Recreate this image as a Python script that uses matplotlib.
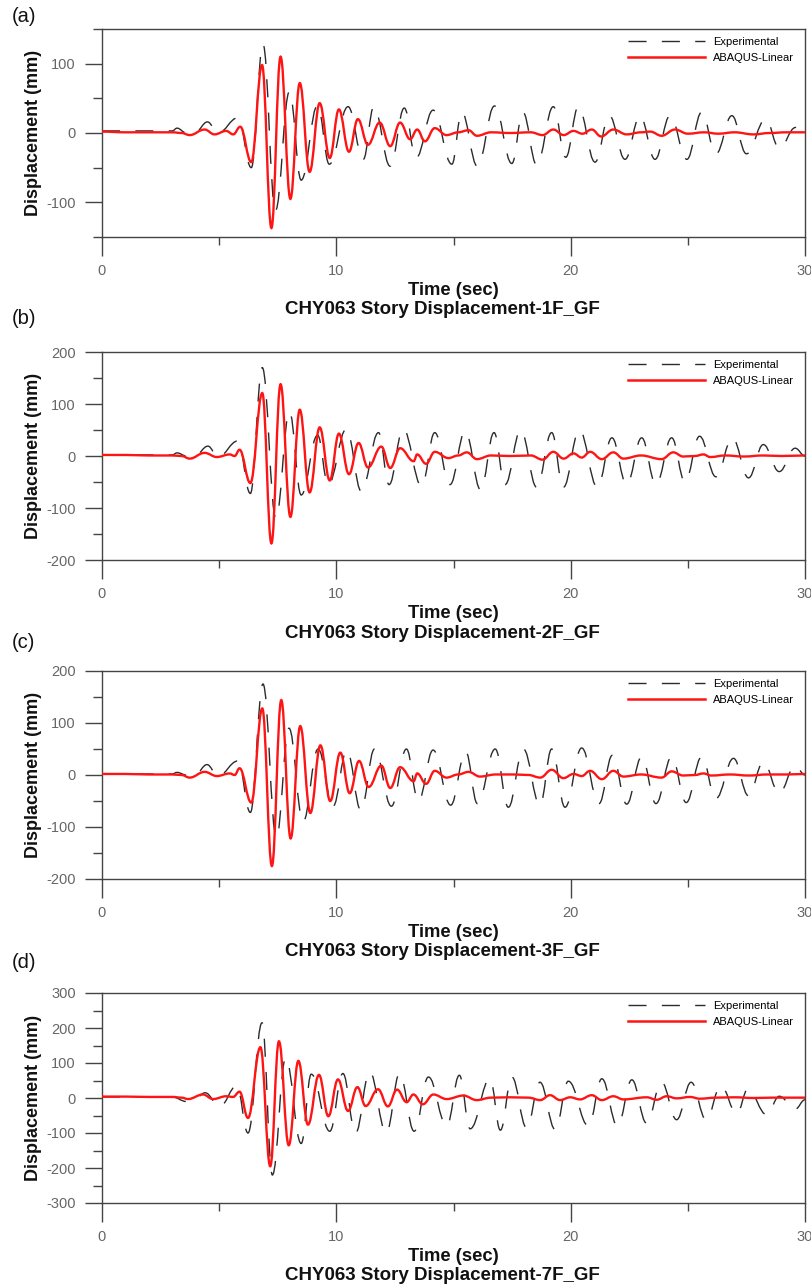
import matplotlib
matplotlib.use("Agg")
import matplotlib.pyplot as plt
from matplotlib.path import Path
from matplotlib.patches import PathPatch
from matplotlib.lines import Line2D
from matplotlib.ticker import MultipleLocator

plt.rcParams['font.family'] = ['Liberation Sans', 'DejaVu Sans']
plt.rcParams['axes.unicode_minus'] = False

# ---------------- data (turning points of each trace) -------------
# Panel (a) 1F
time_a_sim = [0, 1.0, 2.0, 3.0, 3.4, 3.74, 4.38, 4.8, 5.3, 5.6, 5.9, 6.37, 6.83, 7.23, 7.62,
              8.04, 8.44, 8.86, 9.29, 9.72, 10.11, 10.54, 10.92, 11.35, 11.85, 12.3, 12.72,
              13.15, 13.45, 13.78, 14.2, 14.7, 15.2, 15.64, 16.0, 16.6, 17.4, 18.3, 18.8, 19.26,
              19.7, 20.12, 20.5, 20.9, 21.3, 21.82, 22.39, 23.0, 23.4, 23.88, 24.45, 25.0, 25.7,
              26.3, 27.0, 27.8, 28.5, 29.2, 30.0]
disp_a_sim = [2, 1, 1, 1, 0, -3, 5, -2, 3, -2, 9, -42, 98, -137, 110,
              -95, 72, -56, 43, -36, 34, -27, 20, -17, 15, -19, 15,
              -9, 5, -12, 7, -3, 1, 4, -4, 1, 0, 1, -3, 5,
              -3, 3, -1, 5, -5, 5, -2, 1, 2, -4, 5, -1, 1,
              -1, 1, -2, 0, 1, 1]
time_a_exp = [0, 1.5, 3.0, 3.2, 3.6, 4.0, 4.5, 4.95, 5.8, 6.37, 6.87, 7.4, 8.0, 8.5, 9.2, 9.7,
              10.5, 11.15, 11.6, 12.3, 12.9, 13.4, 14.13, 14.93, 15.35, 16.02, 16.75, 17.49,
              17.96, 18.55, 19.26, 19.79, 20.33, 21.04, 21.65, 22.32, 22.96, 23.6, 24.24, 24.96,
              25.59, 26.2, 26.88, 27.5, 28.32, 28.9, 29.6, 30.0]
disp_a_exp = [3, 3, 3, 7, 0, 2, 16, 0, 22, -50, 128, -112, 60, -68, 40, -45,
              38, -38, 38, -48, 36, -36, 33, -45, 30, -48, 39, -44,
              30, -46, 38, -35, 38, -42, 25, -38, 25, -38, 25, -38,
              30, -30, 25, -30, 20, -22, 8, 5]

# Panel (b) 2F
time_b_sim = [0, 1.0, 2.0, 3.0, 3.4, 3.74, 4.38, 4.9, 5.45, 5.66, 5.87, 6.33, 6.84, 7.23, 7.62,
              8.04, 8.44, 8.86, 9.29, 9.72, 10.11, 10.54, 10.95, 11.35, 11.92, 12.3, 12.72,
              13.3, 13.45, 13.83, 14.2, 14.78, 15.2, 15.57, 16.0, 16.6, 17.4, 18.3, 18.8, 19.26,
              19.7, 20.12, 20.47, 20.83, 21.33, 21.82, 22.25, 23.0, 23.88, 24.38, 24.8, 25.3,
              25.67, 25.95, 26.6, 27.4, 28.2, 29.0, 30.0]
disp_b_sim = [2, 2, 1, 1, 0, -5, 6, -2, 3, 0, 12, -52, 121, -168, 138,
              -117, 89, -70, 55, -47, 43, -35, 25, -22, 18, -23, 15,
              -10, 3, -15, 8, -4, 1, 7, -6, 1, 0, 1, -7, 8,
              -5, 5, -3, 8, -6, 7, -5, 1, -6, 7, -1, 0,
              3, -2, 1, -1, 1, 0, 1]
time_b_exp = [0, 1.5, 3.0, 3.2, 3.6, 4.0, 4.52, 4.95, 5.8, 6.33, 6.84, 7.42, 8.0, 8.5, 9.2, 9.65,
              10.43, 11.07, 11.8, 12.25, 12.85, 13.64, 14.2, 14.85, 15.5, 16.16, 16.73, 17.2,
              17.87, 18.55, 19.19, 19.69, 20.37, 21.14, 21.76, 22.39, 23.03, 23.64, 24.31, 24.88,
              25.5, 26.2, 26.9, 27.59, 28.22, 28.9, 29.58, 30.0]
disp_b_exp = [2, 2, 2, 6, 0, 2, 19, -2, 29, -72, 170, -120, 85, -75, 40, -55,
              52, -68, 45, -55, 52, -58, 45, -55, 48, -65, 45, -55,
              50, -60, 45, -60, 50, -60, 35, -55, 35, -55, 35, -50,
              38, -40, 35, -42, 22, -30, 15, 0]

# Panel (c) 3F
time_c_sim = [0, 1.0, 2.0, 3.0, 3.4, 3.74, 4.38, 4.9, 5.45, 5.66, 5.87, 6.37, 6.84, 7.25, 7.65,
              8.05, 8.46, 8.89, 9.32, 9.74, 10.17, 10.57, 10.97, 11.38, 11.92, 12.3, 12.72,
              13.3, 13.45, 13.83, 14.2, 14.7, 15.2, 15.64, 16.13, 16.8, 17.6, 18.2, 18.7, 19.19,
              19.69, 20.12, 20.47, 20.83, 21.33, 21.82, 22.25, 23.0, 23.88, 24.31, 24.8, 25.3,
              25.67, 26.0, 26.8, 27.6, 28.4, 29.2, 30.0]
disp_c_sim = [2, 2, 1, 1, 0, -5, 6, -2, 3, 0, 13, -53, 128, -175, 144,
              -122, 94, -73, 57, -50, 43, -35, 27, -23, 18, -25, 15,
              -12, 3, -17, 8, -5, 1, 6, -3, 1, 1, 0, -5, 10,
              -6, 2, -2, 8, -8, 8, -3, 1, -5, 7, -1, 0,
              3, -1, 1, -1, 1, 1, 2]
time_c_exp = [0, 1.5, 3.0, 3.2, 3.6, 4.0, 4.48, 4.95, 5.8, 6.33, 6.87, 7.44, 7.98, 8.58, 9.22, 9.86,
              10.45, 11.05, 11.63, 12.35, 12.99, 13.5, 14.13, 14.88, 15.52, 16.02, 16.78, 17.34,
              17.98, 18.69, 19.19, 19.76, 20.47, 21.21, 21.78, 22.39, 23.03, 23.64, 24.31, 24.93,
              25.59, 26.2, 26.95, 27.59, 28.22, 28.9, 29.58, 30.0]
disp_c_exp = [2, 2, 2, 5, 0, 2, 20, -2, 27, -72, 175, -120, 90, -90, 50, -60,
              48, -68, 50, -60, 50, -50, 48, -58, 45, -55, 50, -62,
              50, -58, 50, -62, 52, -55, 38, -56, 35, -55, 35, -53,
              35, -45, 32, -40, 25, -35, 18, 0]

# Panel (d) 7F
time_d_sim = [0, 1.0, 2.0, 3.0, 3.4, 3.67, 4.31, 4.74, 5.3, 5.59, 5.87, 6.23, 6.76, 7.18, 7.55,
              7.97, 8.38, 8.79, 9.26, 9.66, 10.07, 10.5, 10.9, 11.25, 11.78, 12.2, 12.59, 13.0,
              13.29, 13.69, 14.14, 14.71, 15.42, 15.99, 16.6, 17.4, 18.2, 18.7, 19.12, 19.55,
              19.98, 20.4, 20.9, 21.33, 21.82, 22.25, 23.25, 23.67, 24.1, 24.52, 25.1, 25.5,
              26.2, 27.0, 27.8, 28.6, 29.3, 30.0]
disp_d_sim = [4, 4, 3, 3, 1, -3, 10, -3, 5, 3, 18, -57, 145, -195, 162,
              -135, 106, -76, 66, -52, 53, -37, 31, -23, 25, -24, 24, -12,
              10, -18, 10, -3, 7, -6, 1, 2, 1, -6, 8, -6,
              2, -4, 8, -6, 5, -4, 2, -5, 5, -1, 3, -2,
              1, 2, 0, 1, 1, 1]
time_d_exp = [0, 1.5, 3.0, 3.6, 4.0, 4.4, 5.02, 5.75, 6.23, 6.83, 7.27, 7.84, 8.5, 8.93, 9.72,
              10.28, 10.82, 11.42, 12.13, 12.7, 13.32, 13.93, 14.71, 15.25, 15.71, 16.56, 17.0,
              17.49, 18.12, 18.69, 19.34, 19.9, 20.76, 21.33, 22.0, 22.61, 23.24, 23.88, 24.52,
              25.14, 25.78, 26.41, 27.09, 27.56, 28.37, 28.9, 29.58, 30.0]
disp_d_exp = [3, 3, 3, -10, 0, 15, -25, 35, -100, 215, -220, 115, -130, 68, -95,
              70, -100, 75, -100, 70, -95, 60, -80, 65, -88, 55, -92,
              60, -85, 45, -90, 48, -80, 55, -80, 52, -72, 45, -62,
              45, -62, 35, -45, 25, -48, 5, -32, -5]

panel_tags = ['(a)', '(b)', '(c)', '(d)']
panel_titles = ['CHY063 Story Displacement-1F_GF', 'CHY063 Story Displacement-2F_GF',
                'CHY063 Story Displacement-3F_GF', 'CHY063 Story Displacement-7F_GF']
y_limits = [150, 200, 200, 300]
series_names = ['Experimental', 'ABAQUS-Linear']
x_ticks = [0, 10, 20, 30]

sim_series = [(time_a_sim, disp_a_sim), (time_b_sim, disp_b_sim),
              (time_c_sim, disp_c_sim), (time_d_sim, disp_d_sim)]
exp_series = [(time_a_exp, disp_a_exp), (time_b_exp, disp_b_exp),
              (time_c_exp, disp_c_exp), (time_d_exp, disp_d_exp)]

# ---------------- layout (pixels) ----------------
W, H = 811, 1287
AX_L, AX_R = 102, 805
ax_tops = [29, 352, 671, 993]
ax_bots = [237, 560, 879, 1203]
tag_y = [16, 319, 642, 962]

RED = '#ff1414'
EXP = '#2b2b2b'
SPINE = '#444444'
TICKLAB = '#666666'


def turning_point_path(t, v, k=0.4):
    """Smooth path through the turning points (horizontal tangents at each point)."""
    verts = [(t[0], v[0])]
    codes = [Path.MOVETO]
    for i in range(len(t) - 1):
        dt = t[i + 1] - t[i]
        verts += [(t[i] + k * dt, v[i]), (t[i + 1] - k * dt, v[i + 1]), (t[i + 1], v[i + 1])]
        codes += [Path.CURVE4] * 3
    return Path(verts, codes)


fig = plt.figure(figsize=(W / 100, H / 100), dpi=100)

for i in range(4):
    top, bot = ax_tops[i], ax_bots[i]
    ax = fig.add_axes([AX_L / W, 1 - bot / H, (AX_R - AX_L) / W, (bot - top) / H])
    lim = y_limits[i]
    ax.set_xlim(0, 30)
    ax.set_ylim(-lim, lim)

    te, ve = exp_series[i]
    ts, vs = sim_series[i]
    assert len(te) == len(ve) and len(ts) == len(vs)

    ax.add_patch(PathPatch(turning_point_path(te, ve), fill=False, edgecolor=EXP,
                           linewidth=1.0, linestyle=(0, (13, 11)), zorder=2))
    ax.add_patch(PathPatch(turning_point_path(ts, vs), fill=False, edgecolor=RED,
                           linewidth=1.7, zorder=3))

    # ticks
    ax.set_xticks(x_ticks)
    ax.xaxis.set_minor_locator(MultipleLocator(5))
    ax.yaxis.set_major_locator(MultipleLocator(100))
    ax.yaxis.set_minor_locator(MultipleLocator(50))
    ax.tick_params(axis='y', which='major', direction='out', length=12, width=1.0,
                   color=SPINE, labelsize=10.5, labelcolor=TICKLAB, pad=7)
    ax.tick_params(axis='y', which='minor', direction='out', length=6.5, width=1.0, color=SPINE)
    ax.tick_params(axis='x', which='major', direction='out', length=13.5, width=1.0,
                   color=SPINE, labelsize=10.5, labelcolor=TICKLAB, pad=6)
    ax.tick_params(axis='x', which='minor', direction='out', length=6, width=1.0, color=SPINE)
    for sp in ax.spines.values():
        sp.set_color(SPINE)
        sp.set_linewidth(1.0)

    ax.set_ylabel('Displacement (mm)', fontsize=13, fontweight='bold', color='#111111')
    ax.yaxis.set_label_coords((42 - AX_L) / (AX_R - AX_L), 0.5)
    ax.set_xlabel('Time (sec)', fontsize=13.2, fontweight='bold', color='#111111')
    ax.xaxis.set_label_coords(0.5, -(bot + 54 - 9 - bot) / (bot - top))

    fig.text(442 / W, 1 - (bot + 73) / H, panel_titles[i], ha='center', va='center',
             fontsize=13.5, fontweight='bold', color='#111111')
    fig.text(12 / W, 1 - tag_y[i] / H, panel_tags[i], ha='left', va='center',
             fontsize=14.5, color='#111111')

    handles = [Line2D([], [], color=EXP, linewidth=1.0, linestyle=(0, (13, 11))),
               Line2D([], [], color=RED, linewidth=1.8)]
    ax.legend(handles, series_names, loc='upper left',
              bbox_to_anchor=((628 - AX_L) / (AX_R - AX_L), 1 - 8 / (bot - top)),
              frameon=False, fontsize=8, handlelength=6.9, handletextpad=0.75,
              borderpad=0, borderaxespad=0, labelspacing=0.5)

fig.savefig('out.png', dpi=100)
